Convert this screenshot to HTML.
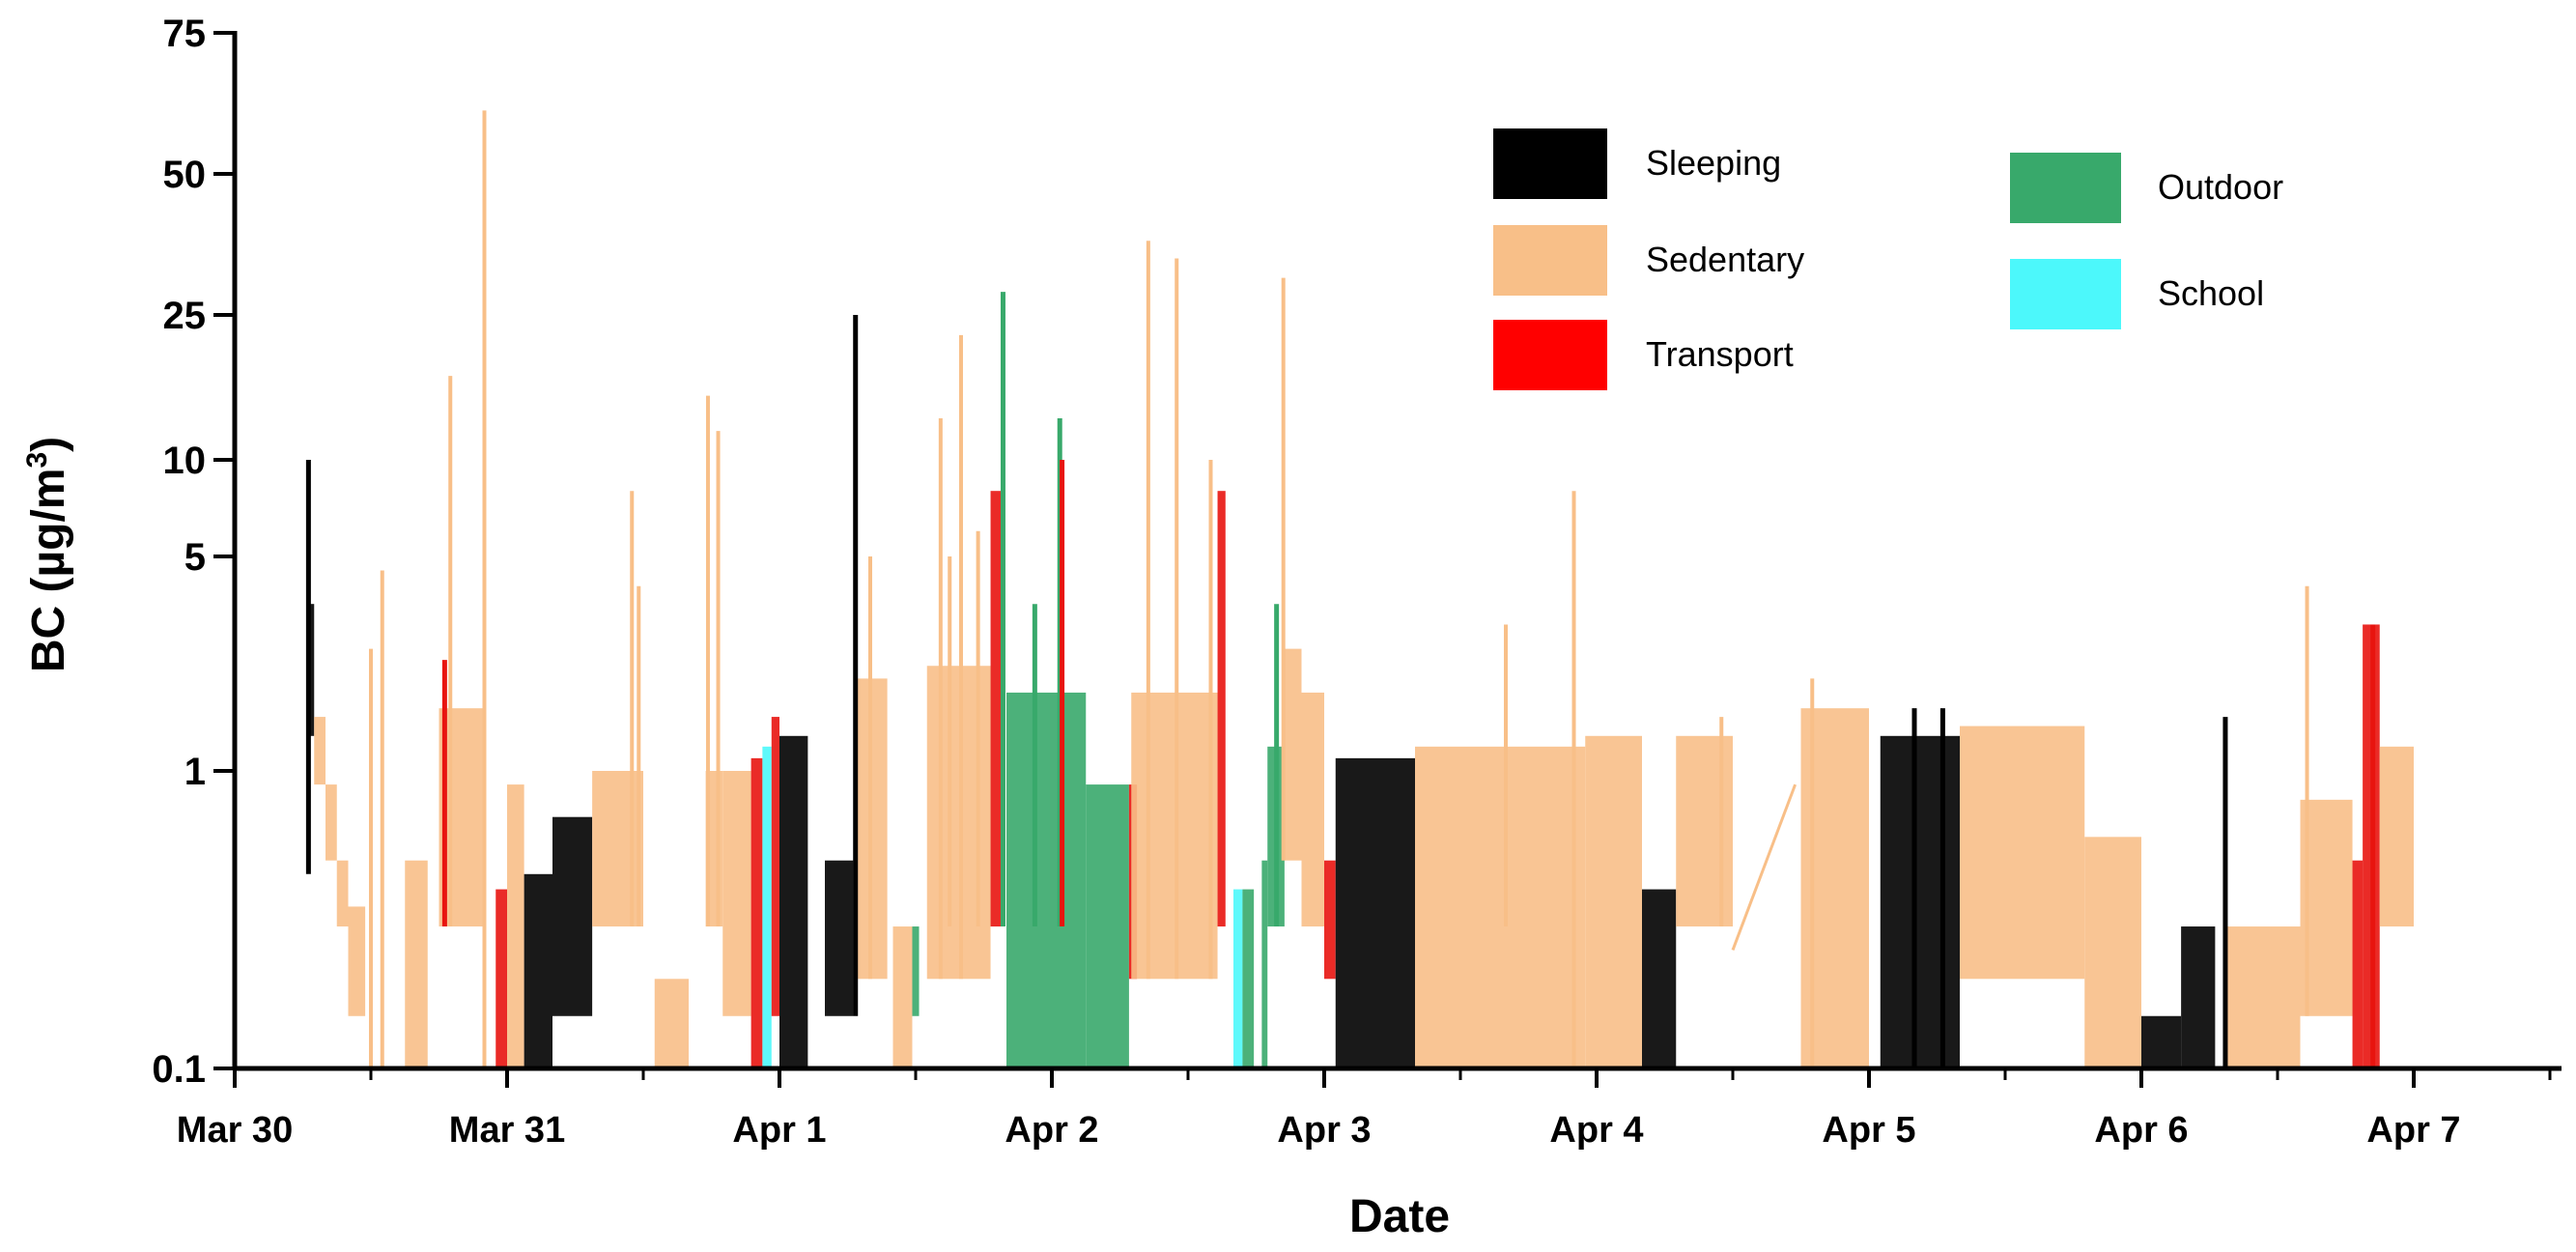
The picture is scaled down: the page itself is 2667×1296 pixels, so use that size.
<!DOCTYPE html>
<html><head><meta charset="utf-8"><style>
html,body{margin:0;padding:0;background:#fff;}
svg{display:block;font-family:"Liberation Sans",Arial,sans-serif;}
</style></head><body>
<svg id="chart" width="2667" height="1296" viewBox="0 0 2667 1296" xmlns="http://www.w3.org/2000/svg">
<g id="marks"></g>
<g id="axes"></g>
<g id="legend"></g>
<text transform="translate(66,574) rotate(-90)" text-anchor="middle" font-size="48" font-weight="bold">BC (µg/m<tspan font-size="30" dy="-18">3</tspan><tspan dy="18">)</tspan></text>
<text x="1449" y="1275" text-anchor="middle" font-size="48" font-weight="bold">Date</text>
</svg>
<script>
// ---- data (hours since Mar 30 00:00) ----
const categories = ["Sleeping","Sedentary","Transport","Outdoor","School"];
const bandStart = [6.5,7,8,9,10,15,18,23,24,25.5,28,31.5,37,41.5,43,45.5,46.5,47.3,48,52,54.9,58,59.7,61,66.6,68,75,78.8,79,86.6,88,88.8,90.5,91,92.5,94,96,97,104,119,124,127,138,145,152,163,168,171.5,175.6,182,186.6,187.5,189];
const bandEnd   = [7,8,9,10,11.5,17,22,24,25.5,28,31.5,36,40,43,45.5,46.5,47.3,48,50.5,54.5,57.5,59.7,60.3,66.6,67.8,75,78.8,79.5,86.6,87.3,88.8,89.8,91,92.5,94,96,97,104,119,124,127,132,144,152,163,168,171.5,174.5,182,186.6,187.5,189,192];
const bandLo    = [1.3,0.9,0.5,0.3,0.15,0.1,0.3,0.1,0.1,0.1,0.15,0.3,0.1,0.3,0.15,0.1,0.1,0.15,0.1,0.15,0.2,0.1,0.15,0.2,0.3,0.1,0.1,0.2,0.2,0.3,0.1,0.1,0.1,0.3,0.5,0.3,0.2,0.1,0.1,0.1,0.1,0.3,0.1,0.1,0.2,0.1,0.1,0.1,0.1,0.15,0.1,0.1,0.3];
const bandHi    = [3.5,1.5,0.9,0.5,0.35,0.5,1.6,0.4,0.9,0.45,0.7,1.0,0.2,1.0,1.0,1.1,1.2,1.5,1.3,0.5,2.0,0.3,0.3,2.2,8,1.8,0.9,0.9,1.8,8,0.4,0.4,0.5,1.2,2.5,1.8,0.5,1.1,1.2,1.3,0.4,1.3,1.6,1.3,1.4,0.6,0.15,0.3,0.3,0.8,0.5,3,1.2];
const bandCat   = [0,1,1,1,1,1,1,2,1,0,0,1,1,1,1,2,4,2,0,0,1,1,3,1,2,3,3,2,1,2,4,3,3,3,1,1,2,0,1,1,0,1,1,0,1,1,0,0,1,1,2,2,1];
const spikeT    = [6.5,12,13,18.5,19,22,35,35.6,41.7,42.6,54.7,56,64,62.2,63,65.5,67.7,72.7,72.9,70.5,80.5,83,86,92.4,91.8,118,112,131,139,148,150.5,175.4,182.6,188.4];
const spikeLo   = [0.45,0.1,0.1,0.3,0.3,0.1,0.3,0.3,0.3,0.3,0.15,0.2,0.2,0.2,0.3,0.3,0.3,0.3,0.3,0.3,0.2,0.2,0.2,0.5,0.3,0.1,0.3,0.3,0.1,0.1,0.1,0.1,0.15,0.1];
const spikeHi   = [10,2.5,4.5,2.3,17,60,8,4,15,12,25,5,22,13,5,6,28,13,10,3.5,36,33,10,30,3.5,8,3,1.5,2,1.6,1.6,1.5,4,3];
const spikeCat  = [0,1,1,2,1,1,1,1,1,1,0,1,1,1,1,1,3,3,2,3,1,1,1,1,3,1,1,1,1,0,0,0,1,2];
const gapLineT  = [132,137.5];
const gapLineV  = [0.25,0.9];
const yTickVals = [0.1,1,5,10,25,50,75];
const yTickLabels = ["0.1","1","5","10","25","50","75"];
const xTickLabels = ["Mar 30","Mar 31","Apr 1","Apr 2","Apr 3","Apr 4","Apr 5","Apr 6","Apr 7"];

// ---- layout ----
const colors = ["#000000","#f8bf88","#e8140f","#38a96b","#4cf8fb"];
const X0=243, PXH=282/24, YB=1106;
const yTickPix=[1106,798,576,476,326,180,34];
function xs(h){return X0+h*PXH;}
function ys(v){
  if(v<=yTickVals[0]) return yTickPix[0];
  for(let i=0;i<yTickVals.length-1;i++){
    if(v<=yTickVals[i+1]){
      const f=(Math.log(v)-Math.log(yTickVals[i]))/(Math.log(yTickVals[i+1])-Math.log(yTickVals[i]));
      return yTickPix[i]+f*(yTickPix[i+1]-yTickPix[i]);
    }
  }
  return yTickPix[yTickPix.length-1];
}
const NS="http://www.w3.org/2000/svg";
function mk(tag,attrs,parent){const e=document.createElementNS(NS,tag);for(const k in attrs)e.setAttribute(k,attrs[k]);parent.appendChild(e);return e;}
const marks=document.getElementById('marks'), axes=document.getElementById('axes'), legend=document.getElementById('legend');

// bands
for(let i=0;i<bandStart.length;i++){
  const x1=xs(bandStart[i]), x2=xs(bandEnd[i]);
  const r=mk('rect',{x:x1,y:ys(bandHi[i]),width:Math.max(2,x2-x1),height:Math.max(2,ys(bandLo[i])-ys(bandHi[i])),fill:colors[bandCat[i]],opacity:0.9},marks);
  
  
}
// gap line
const gl=mk('line',{x1:xs(gapLineT[0]),y1:ys(gapLineV[0]),x2:xs(gapLineT[1]),y2:ys(gapLineV[1]),stroke:colors[1],'stroke-width':3},marks);


// spikes
for(let i=0;i<spikeT.length;i++){
  const l=mk('line',{x1:xs(spikeT[i]),x2:xs(spikeT[i]),y1:ys(spikeLo[i]),y2:ys(spikeHi[i]),stroke:colors[spikeCat[i]],'stroke-width':spikeCat[i]===1?4:5},marks);
  
  
}

// axes
const ya=mk('line',{x1:X0,y1:32,x2:X0,y2:YB+2,stroke:'#000','stroke-width':5},axes);


const xa=mk('line',{x1:X0-2,y1:YB,x2:2652,y2:YB,stroke:'#000','stroke-width':5},axes);


for(let i=0;i<yTickVals.length;i++){
  const y=ys(yTickVals[i]);
  const t=mk('line',{x1:X0-22,x2:X0,y1:y,y2:y,stroke:'#000','stroke-width':4},axes);
  
  
  const tx=mk('text',{x:X0-30,y:y+14,'text-anchor':'end','font-size':40,'font-weight':'bold'},axes);
  tx.textContent=yTickLabels[i];
  
  
}
for(let d=0;d<xTickLabels.length;d++){
  const x=xs(d*24);
  const t=mk('line',{x1:x,x2:x,y1:YB,y2:YB+20,stroke:'#000','stroke-width':4},axes);
  
  
  const tx=mk('text',{x:x,y:YB+76,'text-anchor':'middle','font-size':38,'font-weight':'bold'},axes);
  tx.textContent=xTickLabels[d];
  
  
  if(xs(d*24+12)<2650){
    const m=mk('line',{x1:xs(d*24+12),x2:xs(d*24+12),y1:YB,y2:YB+12,stroke:'#000','stroke-width':3},axes);
    
    
  }
}

// legend
const legX=[1546,1546,1546,2081,2081], legY=[133,233,331,158,268];
const legTX=[1704,1704,1704,2234,2234];
for(let i=0;i<categories.length;i++){
  const g=mk('g',{},legend);
  
  
  const r=mk('rect',{x:legX[i],y:legY[i],width:i<3?118:115,height:73,fill:colors[i]==="#e8140f"?"#ff0000":colors[i]},g);
  
  
  const t=mk('text',{x:legTX[i],y:legY[i]+48,'font-size':36},g);
  t.textContent=categories[i];
  
  
}
</script>
</body></html>
